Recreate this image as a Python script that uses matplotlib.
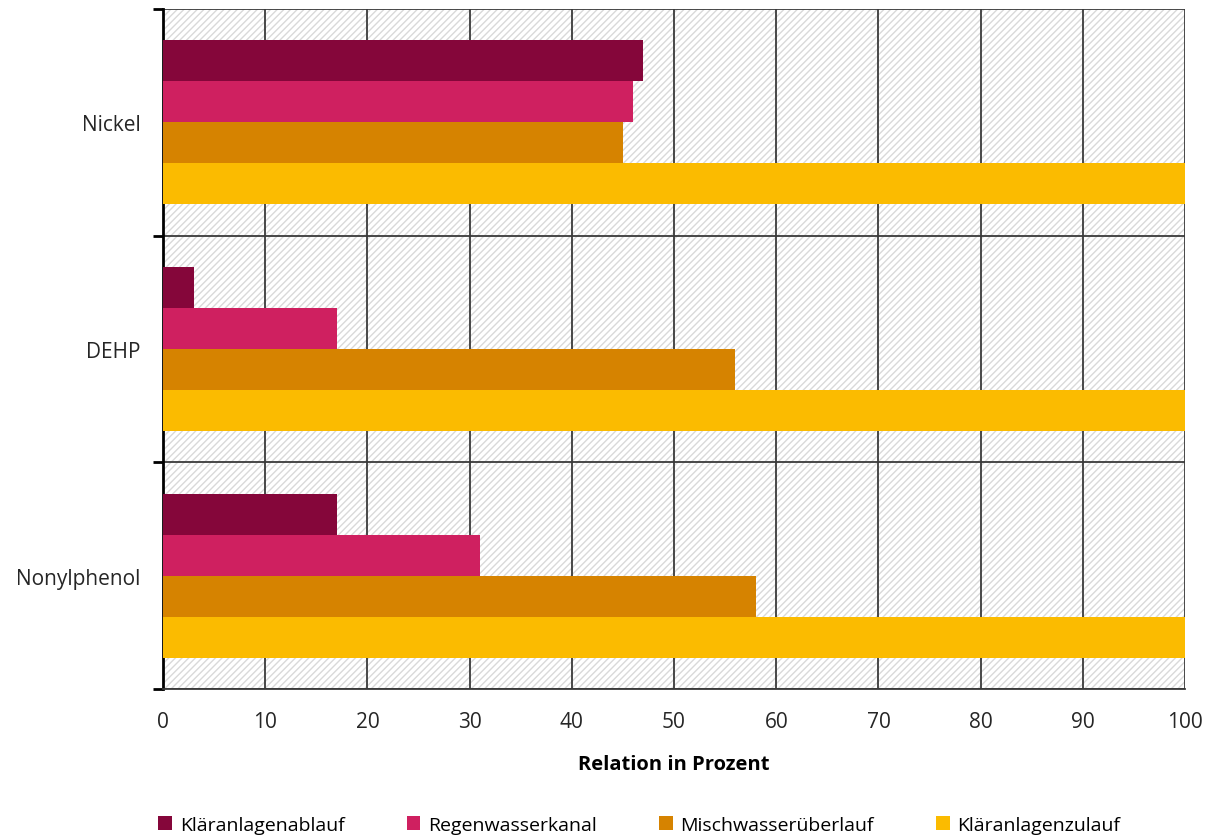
import numpy as np
import matplotlib
matplotlib.use("Agg")
import matplotlib.pyplot as plt
from matplotlib.patches import Rectangle

plt.rcParams["font.family"] = ["Open Sans", "DejaVu Sans"]
plt.rcParams["hatch.linewidth"] = 1.0

# Stoffe (von oben nach unten) und Quellen
stoffe = ["Nickel", "DEHP", "Nonylphenol"]
quellen = ["Kläranlagenablauf", "Regenwasserkanal", "Mischwasserüberlauf", "Kläranlagenzulauf"]
farben = ["#85063a", "#cf2060", "#d68300", "#fbbb00"]

# Relation in Prozent je Quelle, Reihenfolge wie stoffe
ablauf = [47, 3, 17]
regen = [46, 17, 31]
misch = [45, 56, 58]
zulauf = [100, 100, 100]
werte = [ablauf, regen, misch, zulauf]

fig = plt.figure(figsize=(12.11, 8.37), dpi=100)
ax = fig.add_axes([0.1346, 0.1756, 0.844, 0.8124])

n = len(stoffe)
ax.set_xlim(0, 100)
ax.set_ylim(n, 0)

# schraffierter Hintergrund
bg = Rectangle((0, 0), 1, 1, transform=ax.transAxes, facecolor="white",
               edgecolor="#d9d9d9", hatch="/////", linewidth=0, zorder=0)
ax.add_patch(bg)

bar_h = 0.181
centers = np.arange(n) + 0.5
for k, (name, vals, col) in enumerate(zip(quellen, werte, farben)):
    y = centers + (k - 1.5) * bar_h
    ax.barh(y, vals, height=bar_h, color=col, label=name, zorder=3)

# Gitter
for x in range(10, 101, 10):
    ax.axvline(x, color="#3a3a3a", linewidth=1.3, zorder=2)
for yb in range(n + 1):
    ax.axhline(yb, color="#3a3a3a", linewidth=1.3, zorder=2)

ax.set_yticks(np.arange(n + 1))
ax.set_yticklabels([])
ax.set_yticks(centers, minor=True)
ax.set_yticklabels(stoffe, minor=True, fontsize=15, color="#262626")
ax.tick_params(axis="y", which="major", length=7, width=2, color="black", direction="out")
ax.tick_params(axis="y", which="minor", length=0, pad=16)

ax.set_xticks(range(0, 101, 10))
ax.tick_params(axis="x", length=0, pad=16, labelsize=15, labelcolor="#262626")
ax.set_xlabel("Relation in Prozent", fontsize=14.5, fontweight="bold", labelpad=16)

for side in ["top", "right"]:
    ax.spines[side].set_visible(False)
ax.spines["left"].set_linewidth(2)
ax.spines["left"].set_color("black")
ax.spines["bottom"].set_linewidth(1.3)
ax.spines["bottom"].set_color("#3a3a3a")

handles, labels = ax.get_legend_handles_labels()
fig.legend(handles, labels, loc="lower center", ncol=4, frameon=False,
           fontsize=14, bbox_to_anchor=(0.528, -0.018), handlelength=0.7,
           handleheight=0.7, handletextpad=0.4, columnspacing=3.2)

fig.savefig("out.png", dpi=100)
